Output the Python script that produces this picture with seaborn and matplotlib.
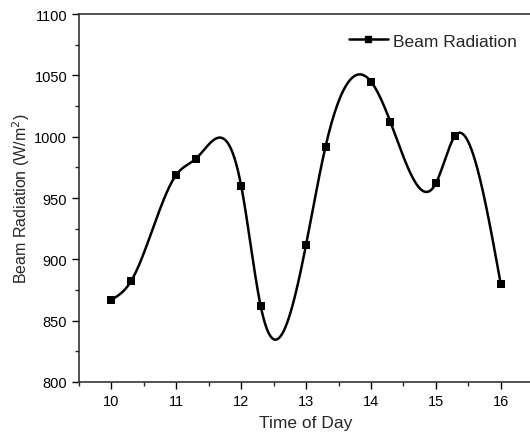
import numpy as np
import pandas as pd
import matplotlib
matplotlib.use("Agg")
import matplotlib.pyplot as plt
import seaborn as sns
from matplotlib.lines import Line2D
from matplotlib.ticker import MultipleLocator

time_of_day = [10, 10.3, 11, 11.3, 12, 12.3, 13, 13.3, 14, 14.3, 15, 15.3, 16]
beam_radiation = [867, 882, 969, 982, 960, 862, 912, 992, 1045, 1012, 962, 1001, 880]


def natural_spline(x, y, n=600):
    # plain natural cubic spline, like Origin's spline connector
    x = np.asarray(x, float)
    y = np.asarray(y, float)
    h = np.diff(x)
    m = len(x)
    A = np.zeros((m, m))
    b = np.zeros(m)
    A[0, 0] = A[-1, -1] = 1
    for i in range(1, m - 1):
        A[i, i - 1] = h[i - 1]
        A[i, i] = 2 * (h[i - 1] + h[i])
        A[i, i + 1] = h[i]
        b[i] = 3 * ((y[i + 1] - y[i]) / h[i] - (y[i] - y[i - 1]) / h[i - 1])
    c = np.linalg.solve(A, b)
    xs = np.linspace(x[0], x[-1], n)
    idx = np.clip(np.searchsorted(x, xs) - 1, 0, m - 2)
    dx = xs - x[idx]
    bb = (y[idx + 1] - y[idx]) / h[idx] - h[idx] * (2 * c[idx] + c[idx + 1]) / 3
    dd = (c[idx + 1] - c[idx]) / (3 * h[idx])
    ys = y[idx] + bb * dx + c[idx] * dx ** 2 + dd * dx ** 3
    return xs, ys


sns.set_style("ticks")
plt.rcParams['font.family'] = ['Liberation Sans', 'DejaVu Sans']

pts = pd.DataFrame({'time': time_of_day, 'rad': beam_radiation})
sx, sy = natural_spline(time_of_day, beam_radiation)
curve = pd.DataFrame({'time': sx, 'rad': sy})

fig = plt.figure(figsize=(5.3, 4.39), dpi=100)
ax = fig.add_axes([0.149, 0.1276, 0.857, 0.838])

sns.lineplot(data=curve, x='time', y='rad', color='black', linewidth=1.8, ax=ax,
             estimator=None, sort=False)
sns.scatterplot(data=pts, x='time', y='rad', marker='s', color='black', s=36,
                edgecolor='black', linewidth=0, ax=ax, zorder=3)

ax.set_xlim(9.5, 16.5)
ax.set_ylim(800, 1100)
ax.xaxis.set_major_locator(MultipleLocator(1))
ax.xaxis.set_minor_locator(MultipleLocator(0.5))
ax.yaxis.set_major_locator(MultipleLocator(50))
ax.yaxis.set_minor_locator(MultipleLocator(25))
ax.tick_params(which='major', direction='out', length=5, width=1, labelsize=10.5, colors='black')
ax.tick_params(which='minor', direction='out', length=3, width=1)
ax.spines['right'].set_visible(False)
for s in ['left', 'bottom', 'top']:
    ax.spines[s].set_linewidth(1.2)
    ax.spines[s].set_color('#333333')

ax.set_xlabel('Time of Day', fontsize=12.5, labelpad=5)
ax.set_ylabel('Beam Radiation (W/m$^2$)', fontsize=11.5, labelpad=2)

handle = Line2D([], [], color='black', linewidth=1.8, marker='s', markersize=5)
ax.legend([handle], ['Beam Radiation'], loc='upper right', frameon=False,
          fontsize=12.5, handlelength=2.3, handletextpad=0.25,
          bbox_to_anchor=(0.998, 0.99))

fig.savefig('out.png', dpi=100)
